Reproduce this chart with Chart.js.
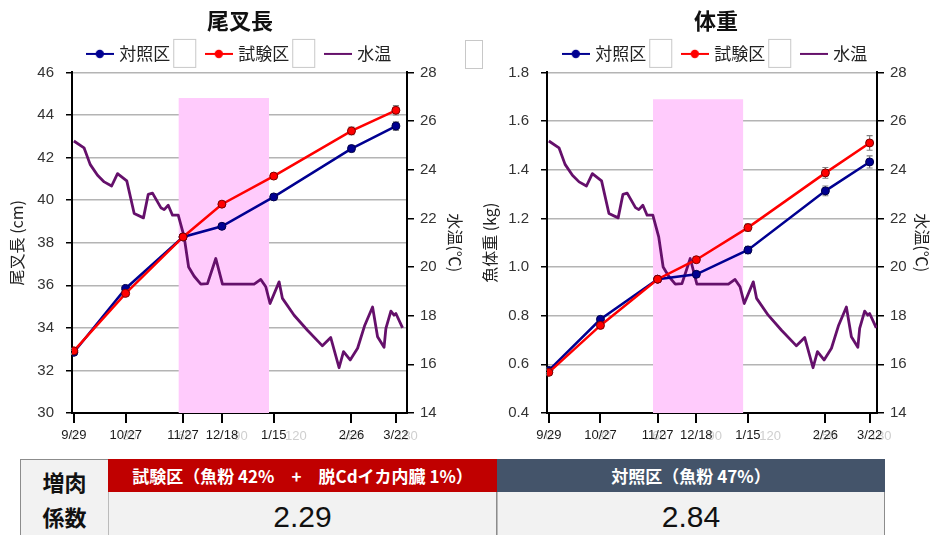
<!DOCTYPE html>
<html lang="ja">
<head>
<meta charset="utf-8">
<title>尾叉長・体重</title>
<script src="https://cdn.jsdelivr.net/npm/chart.js@4.4.1/dist/chart.umd.min.js"></script>
<style>
  html, body { margin: 0; padding: 0; background: #fff; }
  body { width: 932px; height: 535px; overflow: hidden; position: relative; }
  #wrapL { position: absolute; left: 0; top: 0; width: 480px; height: 455px; }
  #wrapR { position: absolute; left: 470px; top: 0; width: 492px; height: 455px; }
  .stray { position: absolute; left: 465px; top: 40px; width: 18px; height: 29px;
           border: 1px solid #c8c8c8; background: #fff; box-sizing: border-box; }
  .cell { position: absolute; box-sizing: border-box; display: flex; align-items: center;
          justify-content: center; text-align: center; font-family: "Noto Sans CJK JP", sans-serif; }
  .lbl { background: #f2f2f2; border: 1px solid #8c8c8c; font-weight: bold; font-size: 22px;
         line-height: 35px; color: #111; }
  .hdr { color: #fff; font-size: 17px; font-weight: bold; white-space: nowrap; }
  .red { background: #c00000; }
  .slate { background: #44546a; }
  .val { background: #f2f2f2; border-right: 1px solid #8c8c8c; border-left: 1px solid #bbb;
         font-family: "Liberation Sans", sans-serif; font-size: 30px; color: #111; }
</style>
</head>
<body>
<div id="wrapL"><canvas id="forkChart"></canvas></div>
<div id="wrapR"><canvas id="weightChart"></canvas></div>
<div class="stray"></div>

<div class="cell lbl" style="left:20px;top:459px;width:89px;height:80px;">増肉<br>係数</div>
<div class="cell hdr red" style="left:108px;top:459px;width:389px;height:33px;">試験区（魚粉 42%　+　脱Cdイカ内臓 1%）</div>
<div class="cell hdr slate" style="left:497px;top:459px;width:388px;height:33px;">対照区（魚粉 47%）</div>
<div class="cell val" style="left:108px;top:492px;width:389px;height:50px;"><span id="gainTest"></span></div>
<div class="cell val" style="left:497px;top:492px;width:388px;height:50px;"><span id="gainControl"></span></div>

<script>
// --- data ---
const sampleDays = [0, 28, 59, 80, 108, 150, 174];
const sampleLabels = ["9/29", "10/27", "11/27", "12/18", "1/15", "2/26", "3/22"];
const ghostTicks = [0, 30, 60, 90, 120, 150, 180];
const seriesNames = ["対照区", "試験区", "水温"];

const forkControl = [32.85, 35.85, 38.27, 38.77, 40.15, 42.42, 43.48];
const forkTest = [32.92, 35.62, 38.27, 39.81, 41.13, 43.25, 44.22];
const forkControlErr = [0.1, 0.1, 0.1, 0.1, 0.12, 0.15, 0.2];
const forkTestErr = [0.12, 0.1, 0.1, 0.12, 0.12, 0.18, 0.22];

const weightControl = [0.575, 0.785, 0.95, 0.97, 1.07, 1.313, 1.432];
const weightTest = [0.567, 0.76, 0.95, 1.03, 1.162, 1.387, 1.51];
const weightControlErr = [0.01, 0.01, 0.01, 0.01, 0.015, 0.02, 0.025];
const weightTestErr = [0.01, 0.01, 0.01, 0.012, 0.015, 0.022, 0.03];

const tempDays = [0, 5.5, 8.8, 12.8, 16.4, 20.4, 23.6, 28.6, 32.6, 37.6, 40.2, 42.5, 47, 48.8, 51, 53.3, 56.4,
  59.6, 62, 65, 68.6, 72.2, 76.7, 80.3, 97.4, 101, 103.7, 106, 110.9, 112.7,
  119, 126.2, 134.3, 138.8, 143.3, 145.7, 149.3, 153.3, 157.2, 161.4, 164.1, 167.6, 168.6, 171.3, 173, 174, 177.6];
const tempValues = [25.18, 24.9, 24.22, 23.77, 23.5, 23.33, 23.84, 23.54, 22.2, 22.02, 22.99, 23.04, 22.44, 22.36, 22.54, 22.13, 22.13,
  21.24, 20.0, 19.62, 19.3, 19.32, 20.35, 19.3, 19.3, 19.49, 19.19, 18.5, 19.39, 18.71,
  18.02, 17.4, 16.76, 17.1, 15.86, 16.52, 16.18, 16.66, 17.61, 18.36, 17.13, 16.7, 17.48, 18.19, 18.02, 18.09, 17.5];

const shadeDays = [56.5, 105.5];
const forkShadeTop = 44.8;
const weightShadeTop = 1.69;

const gainTest = "2.29";
const gainControl = "2.84";

// --- styles ---
const CJK = "'Noto Sans CJK JP', sans-serif";
const SANS = "'Liberation Sans', Arial, sans-serif";
const CONTROL = "#000091";
const TEST = "#ff0000";
const TEMP = "#65106b";

document.getElementById("gainTest").textContent = gainTest;
document.getElementById("gainControl").textContent = gainControl;

function pts(xs, ys) { return xs.map((x, i) => ({ x: x, y: ys[i] })); }

// small line (+dot) images for the legend
function legendIcon(color, dot) {
  const c = document.createElement("canvas");
  c.width = 28; c.height = 12;
  const g = c.getContext("2d");
  g.strokeStyle = color; g.lineWidth = 2;
  g.beginPath(); g.moveTo(0, 6); g.lineTo(28, 6); g.stroke();
  if (dot) {
    g.fillStyle = color;
    g.beginPath(); g.arc(14, 6, 4.2, 0, Math.PI * 2); g.fill();
  }
  return c;
}
const icons = [legendIcon(CONTROL, true), legendIcon(TEST, true), legendIcon(TEMP, false)];

// faint day numbers behind the date labels
const ghostTicksPlugin = {
  id: "ghostTicks",
  beforeDraw(chart) {
    const xs = chart.scales.x, ctx = chart.ctx;
    ctx.save();
    ctx.font = "13px " + SANS;
    ctx.fillStyle = "#cfcfcf";
    ctx.textAlign = "center";
    ctx.textBaseline = "middle";
    ghostTicks.forEach(v => ctx.fillText(String(v), xs.getPixelForValue(v), chart.chartArea.bottom + 23));
    ctx.restore();
  }
};

// error bars from the dataset's errors array
const errorBarPlugin = {
  id: "errorBars",
  beforeDatasetsDraw(chart) {
    const ctx = chart.ctx, ys = chart.scales.y;
    ctx.save();
    ctx.strokeStyle = "#808080";
    ctx.lineWidth = 1.2;
    chart.data.datasets.forEach((ds, di) => {
      if (!ds.errors) return;
      chart.getDatasetMeta(di).data.forEach((pt, i) => {
        const v = ds.data[i].y, e = ds.errors[i];
        const top = ys.getPixelForValue(v + e), bot = ys.getPixelForValue(v - e);
        ctx.beginPath();
        ctx.moveTo(pt.x, top); ctx.lineTo(pt.x, bot);
        ctx.moveTo(pt.x - 3, top); ctx.lineTo(pt.x + 3, top);
        ctx.moveTo(pt.x - 3, bot); ctx.lineTo(pt.x + 3, bot);
        ctx.stroke();
      });
    });
    ctx.restore();
  }
};

// the empty boxes that follow 対照区 and 試験区 in the legend
const legendBoxPlugin = {
  id: "legendBoxes",
  afterDraw(chart) {
    const lg = chart.legend, ctx = chart.ctx;
    if (!lg || !lg.legendHitBoxes) return;
    ctx.save();
    ctx.font = "17px " + CJK;
    [0, 1].forEach(i => {
      const hb = lg.legendHitBoxes[i];
      const x = hb.left + 22 + 8.5 + ctx.measureText(seriesNames[i]).width + 3;
      const y = hb.top + hb.height / 2 - 15;
      ctx.fillStyle = "#fff";
      ctx.fillRect(x, y, 23, 29);
      ctx.strokeStyle = "#c8c8c8";
      ctx.lineWidth = 1;
      ctx.strokeRect(x + 0.5, y + 0.5, 22, 28);
    });
    ctx.restore();
  }
};

function buildChart(canvasId, o) {
  return new Chart(document.getElementById(canvasId), {
    type: "line",
    data: {
      datasets: [
        { label: seriesNames[0], data: pts(sampleDays, o.control), errors: o.controlErr, yAxisID: "y",
          borderColor: CONTROL, backgroundColor: CONTROL, pointBorderColor: "#00004a", pointBorderWidth: 1,
          borderWidth: 2.5, pointRadius: 4, tension: 0, order: 2 },
        { label: seriesNames[1], data: pts(sampleDays, o.test), errors: o.testErr, yAxisID: "y",
          borderColor: TEST, backgroundColor: TEST, pointBorderColor: "#7a0000", pointBorderWidth: 1,
          borderWidth: 2.5, pointRadius: 4, tension: 0, order: 1 },
        { label: seriesNames[2], data: pts(tempDays, tempValues), yAxisID: "y2",
          borderColor: TEMP, borderWidth: 2.8, pointRadius: 0, tension: 0, borderJoinStyle: "round", order: 3 },
        { label: "shade", data: pts(shadeDays, [o.shadeTop, o.shadeTop]), yAxisID: "y",
          fill: "start", backgroundColor: "#ffcbfc", borderWidth: 0, pointRadius: 0, order: 5 }
      ]
    },
    options: {
      responsive: true,
      maintainAspectRatio: false,
      animation: false,
      events: [],
      plugins: {
        title: { display: true, text: o.title, color: "#111",
                 font: { size: 22, weight: "bold", family: CJK }, padding: { top: 7, bottom: 0 } },
        legend: {
          labels: {
            usePointStyle: true, pointStyleWidth: 22, padding: 12, color: "#222",
            font: { size: 17, family: CJK },
            generateLabels: () => seriesNames.map((name, i) => ({
              text: i < 2 ? name + "\u3000\u2002" : name,
              pointStyle: icons[i], fillStyle: "transparent", strokeStyle: "transparent",
              lineWidth: 0, hidden: false, datasetIndex: i, fontColor: "#222"
            }))
          }
        },
        tooltip: { enabled: false }
      },
      scales: {
        x: {
          type: "linear", min: -1, max: o.xMax,
          afterBuildTicks: s => { s.ticks = sampleDays.map(v => ({ value: v })); },
          afterFit: s => { s.height = 42; },
          ticks: { autoSkip: false, maxRotation: 0, padding: 5, color: "#1a1a1a",
                   font: { size: 13, family: SANS }, callback: (v, i) => sampleLabels[i] },
          grid: { drawOnChartArea: false, color: "#000", lineWidth: 2, tickLength: 10 },
          border: { color: "#000", width: 2 }
        },
        y: {
          position: "left", min: o.yMin, max: o.yMax,
          afterFit: s => { s.width = o.leftWidth; },
          ticks: { stepSize: o.yStep, padding: 12, color: "#333", font: { size: 15, family: SANS },
                   callback: v => v.toFixed(o.yDecimals) },
          grid: { color: "#b4b4b4", lineWidth: 1.5, tickColor: "#000", tickLength: 6 },
          border: { color: "#000", width: 2 },
          title: { display: true, text: o.yTitle, color: "#222", font: { size: 16, family: CJK },
                   padding: { top: o.leftTitlePad, bottom: 0 } }
        },
        y2: {
          position: "right", min: 14, max: 28,
          afterFit: s => { s.width = o.rightWidth; },
          ticks: { stepSize: 2, padding: 6, color: "#333", font: { size: 15, family: SANS } },
          grid: { drawOnChartArea: false, color: "#000", lineWidth: 1.5, tickLength: 7 },
          border: { color: "#000", width: 2 },
          title: { display: true, text: "水温(℃)", color: "#222", font: { size: 16, family: CJK },
                   padding: { top: o.rightTitlePad, bottom: 0 } }
        }
      }
    },
    plugins: [ghostTicksPlugin, errorBarPlugin, legendBoxPlugin]
  });
}

buildChart("forkChart", {
  title: "尾叉長", yTitle: "尾叉長 (cm)", yMin: 30, yMax: 46, yStep: 2, yDecimals: 0, xMax: 180,
  control: forkControl, test: forkTest, controlErr: forkControlErr, testErr: forkTestErr,
  shadeTop: forkShadeTop, leftWidth: 72, rightWidth: 73, leftTitlePad: 7, rightTitlePad: 15
});

buildChart("weightChart", {
  title: "体重", yTitle: "魚体重 (kg)", yMin: 0.4, yMax: 1.8, yStep: 0.2, yDecimals: 1, xMax: 178,
  control: weightControl, test: weightTest, controlErr: weightControlErr, testErr: weightTestErr,
  shadeTop: weightShadeTop, leftWidth: 77, rightWidth: 85, leftTitlePad: 10, rightTitlePad: 30
});
</script>
</body>
</html>
